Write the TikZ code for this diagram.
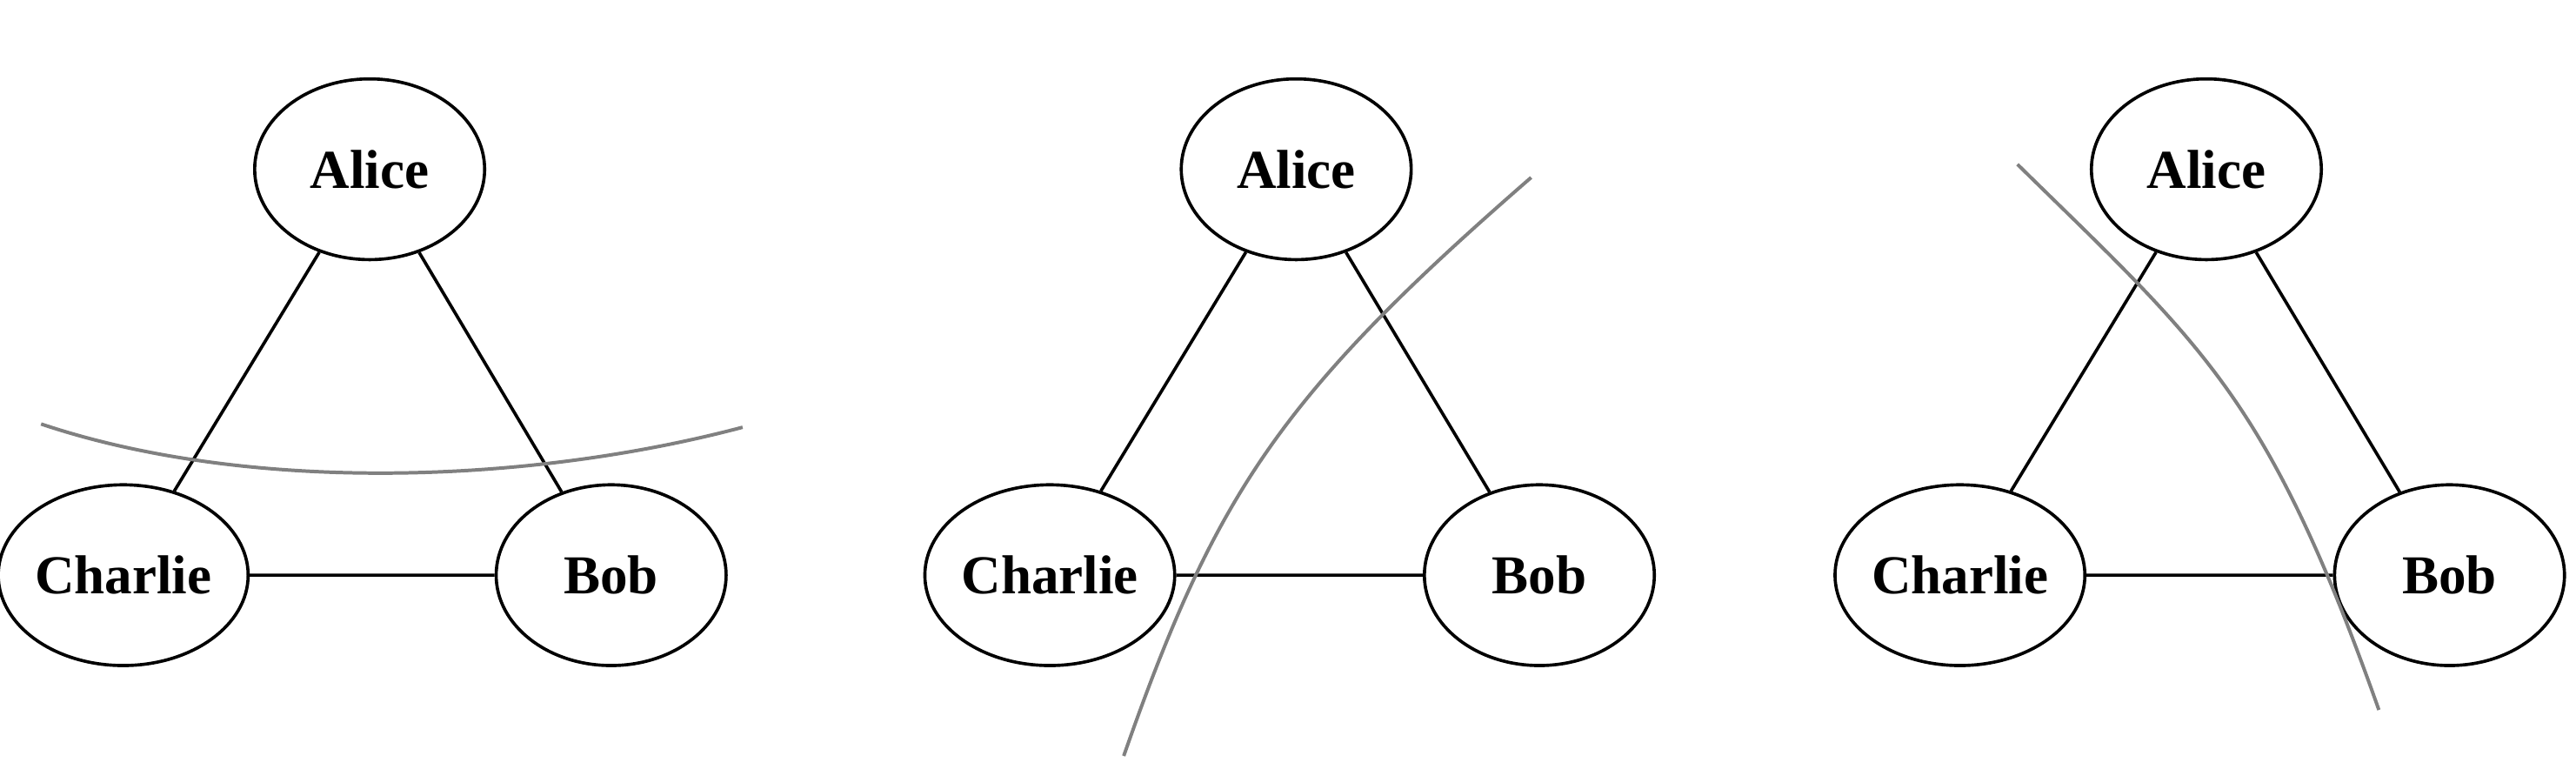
\documentclass[tikz,border=0pt]{standalone}
\usepackage{fontspec}
\setmainfont{Liberation Serif}
\usetikzlibrary{shapes.geometric}
\begin{document}
\begin{tikzpicture}[x=0.02cm,y=-0.02cm,
  person/.style={ellipse,draw,line width=1.1pt,minimum width=2.8cm,minimum height=2.2cm,inner sep=0pt,font=\fontsize{19}{22}\selectfont\bfseries},
  edge/.style={line width=1.1pt},
  cut/.style={line width=1.2pt,draw=gray}]
\useasboundingbox (0,0) rectangle (1568,472);
% panel 1
\node[person] (a1) at (225,103) {Alice};
\node[person] (c1) at (75,350) {Charlie};
\node[person] (b1) at (372,350) {Bob};
\draw[edge] (a1)--(c1) (a1)--(b1) (c1)--(b1);
\coordinate (p1s) at (25,258); \coordinate (p1e) at (452,260);
\draw[cut] (p1s) .. controls (150,300) and (320,295) .. (p1e);
% panel 2
\node[person] (a2) at (789,103) {Alice};
\node[person] (c2) at (639,350) {Charlie};
\node[person] (b2) at (937,350) {Bob};
\draw[edge] (a2)--(c2) (a2)--(b2) (c2)--(b2);
\coordinate (p2s) at (684,460); \coordinate (p2e) at (932,108);
\draw[cut] (p2s) .. controls (740,300) and (780,240) .. (p2e);
% panel 3
\node[person] (a3) at (1343,103) {Alice};
\node[person] (c3) at (1193,350) {Charlie};
\node[person] (b3) at (1491,350) {Bob};
\draw[edge] (a3)--(c3) (a3)--(b3) (c3)--(b3);
\coordinate (p3s) at (1228,100); \coordinate (p3e) at (1448,432);
\draw[cut] (p3s) .. controls (1340,210) and (1380,240) .. (p3e);
\end{tikzpicture}
\end{document}
